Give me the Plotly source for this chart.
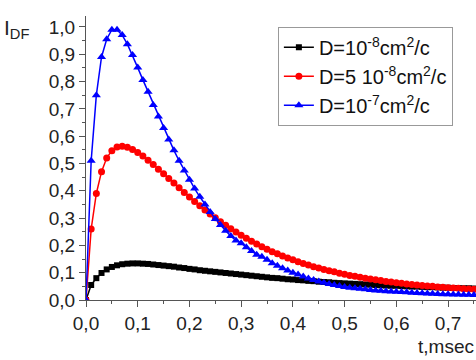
import plotly.graph_objects as go

t = [round(0.01 * i, 2) for i in range(77)]

d1 = [0.0, 0.055, 0.08, 0.099, 0.112, 0.121, 0.127, 0.131, 0.133, 0.134,
      0.134, 0.133, 0.132, 0.130, 0.128, 0.126, 0.124, 0.122, 0.119, 0.117,
      0.114, 0.112, 0.109, 0.107, 0.105, 0.103, 0.101, 0.099, 0.097, 0.095,
      0.093, 0.091, 0.089, 0.087, 0.085, 0.083, 0.081, 0.080, 0.078, 0.076,
      0.075, 0.073, 0.072, 0.070, 0.069, 0.067, 0.066, 0.065, 0.063, 0.062,
      0.061, 0.060, 0.059, 0.058, 0.057, 0.056, 0.055, 0.054, 0.053, 0.052,
      0.052, 0.051, 0.050, 0.049, 0.049, 0.048, 0.047, 0.047, 0.046, 0.045,
      0.045, 0.044, 0.044, 0.043, 0.043, 0.042, 0.042]

d5 = [0.0, 0.26, 0.39, 0.47, 0.52, 0.547, 0.56, 0.563, 0.559, 0.551,
      0.540, 0.527, 0.512, 0.496, 0.479, 0.462, 0.445, 0.428, 0.411, 0.394,
      0.377, 0.361, 0.345, 0.330, 0.315, 0.301, 0.287, 0.274, 0.261, 0.249,
      0.237, 0.226, 0.215, 0.205, 0.195, 0.186, 0.177, 0.169, 0.161, 0.154,
      0.147, 0.140, 0.134, 0.128, 0.122, 0.117, 0.112, 0.107, 0.103, 0.098,
      0.094, 0.090, 0.087, 0.083, 0.080, 0.077, 0.074, 0.071, 0.068, 0.066,
      0.063, 0.061, 0.059, 0.057, 0.055, 0.053, 0.051, 0.050, 0.048, 0.047,
      0.045, 0.044, 0.043, 0.041, 0.040, 0.039, 0.038]

d10 = [0.0, 0.51, 0.75, 0.89, 0.955, 0.99, 0.99, 0.97, 0.937, 0.897,
       0.851, 0.806, 0.763, 0.714, 0.672, 0.63, 0.588, 0.548, 0.51, 0.474,
       0.44, 0.408, 0.378, 0.35, 0.322, 0.297, 0.275, 0.254, 0.234, 0.218,
       0.208, 0.193, 0.179, 0.166, 0.158, 0.147, 0.135, 0.125, 0.116, 0.108,
       0.100, 0.093, 0.086, 0.079, 0.073, 0.068, 0.063, 0.059, 0.055, 0.051,
       0.048, 0.045, 0.043, 0.041, 0.039, 0.037, 0.035, 0.034, 0.032, 0.031,
       0.030, 0.029, 0.028, 0.027, 0.026, 0.025, 0.024, 0.023, 0.022, 0.021,
       0.021, 0.020, 0.020, 0.019, 0.019, 0.018, 0.018]

names = ["D=10<sup>-8</sup>cm<sup>2</sup>/c",
         "D=5 10<sup>-8</sup>cm<sup>2</sup>/c",
         "D=10<sup>-7</sup>cm<sup>2</sup>/c"]

FONT = "Arial, Liberation Sans, sans-serif"

fig = go.Figure()
fig.add_trace(go.Scatter(x=t, y=d1, name=names[0], mode="lines+markers",
                         line=dict(color="black", width=1.5),
                         marker=dict(symbol="square", size=6, color="black")))
fig.add_trace(go.Scatter(x=t, y=d5, name=names[1], mode="lines+markers",
                         line=dict(color="#ff0000", width=1.5),
                         marker=dict(symbol="circle", size=7, color="#ff0000")))
fig.add_trace(go.Scatter(x=t, y=d10, name=names[2], mode="lines+markers",
                         line=dict(color="#0000ff", width=1.5),
                         marker=dict(symbol="triangle-up", size=8, color="#0000ff")))

axis_common = dict(showline=True, linecolor="#555", linewidth=1.2,
                   ticks="outside", ticklen=6, tickcolor="#555", tickwidth=1.2,
                   showgrid=False, zeroline=False, tickformat=".1f",
                   tickfont=dict(family=FONT, size=19, color="#222"))

fig.update_layout(
    width=476, height=360,
    margin=dict(l=86, r=0, t=16, b=60),
    paper_bgcolor="white", plot_bgcolor="white",
    separators=", ",
    font=dict(family=FONT, size=19, color="#222"),
    xaxis=dict(range=[0, 0.754], dtick=0.1, tick0=0,
               minor=dict(dtick=0.05, ticks="outside", ticklen=3, tickcolor="#555"),
               **axis_common),
    yaxis=dict(range=[0, 1.04], dtick=0.1, tick0=0,
               minor=dict(dtick=0.05, ticks="outside", ticklen=3, tickcolor="#555"),
               **axis_common),
    legend=dict(x=0.492, y=0.962, xanchor="left", yanchor="top",
                bordercolor="#999", borderwidth=1, bgcolor="white",
                font=dict(family=FONT, size=20, color="#111"),
                itemwidth=30, tracegroupgap=0),
    showlegend=True,
)

fig.add_annotation(text="I<sub>DF</sub>", xref="paper", yref="paper",
                   x=-0.215, y=0.955, xanchor="left", yanchor="middle",
                   showarrow=False, font=dict(family=FONT, size=21, color="#222"))
fig.add_annotation(text="t,msec", xref="paper", yref="paper",
                   x=1.0, y=-0.12, xanchor="right", yanchor="top",
                   showarrow=False, font=dict(family=FONT, size=19, color="#222"))

fig.write_html("out.html")
